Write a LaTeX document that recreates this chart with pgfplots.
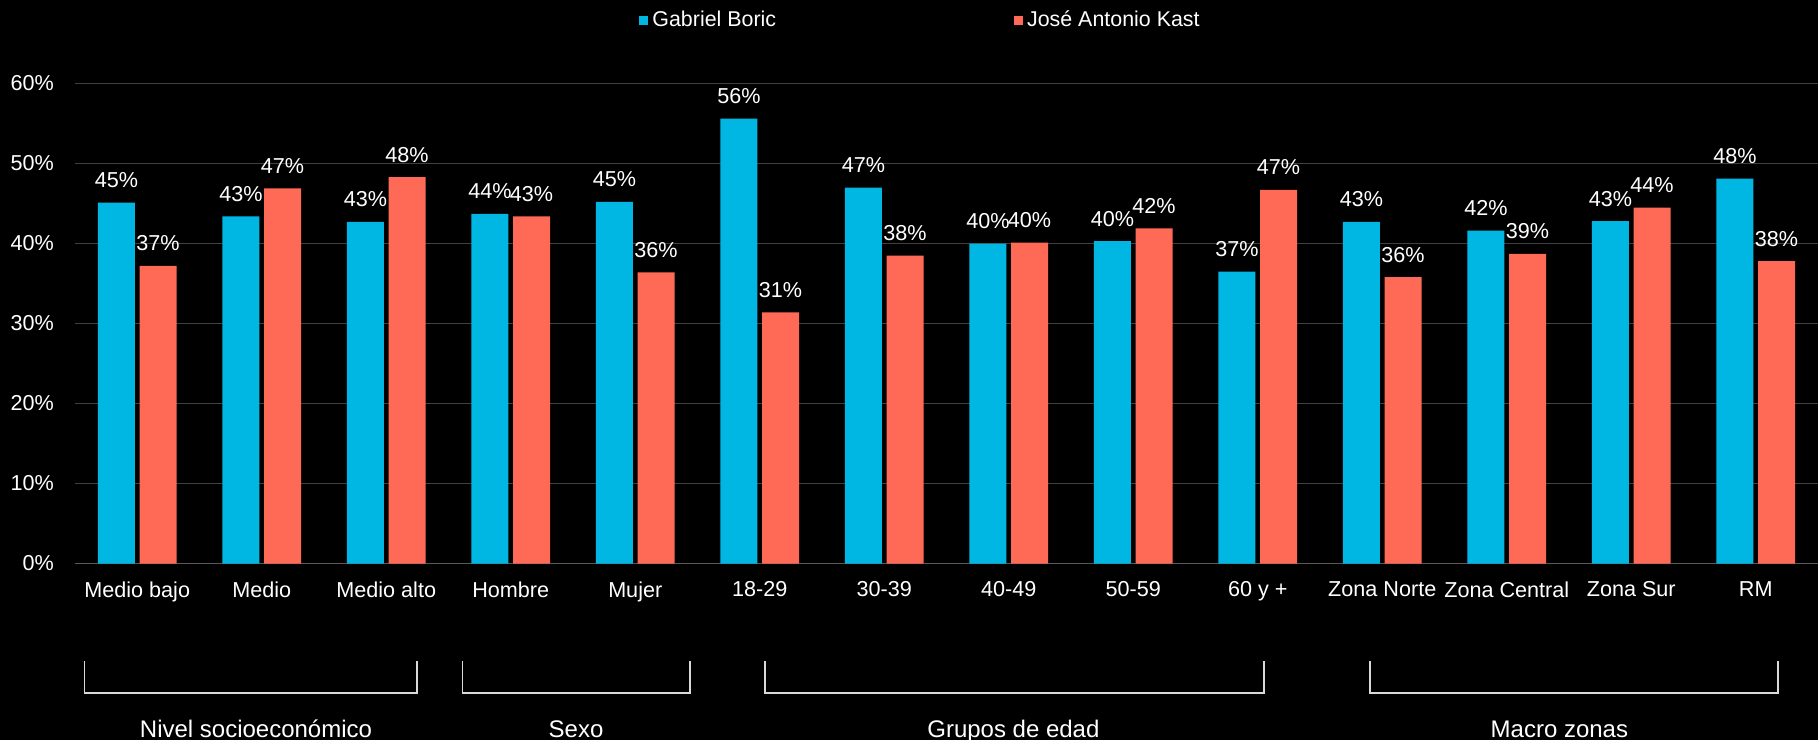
\documentclass[border=0pt]{standalone}
\usepackage{pgfplots}
\pgfplotsset{compat=1.18}
\usepackage{pgfplotstable}
\usepackage{fontspec}
\setmainfont{Liberation Sans}
\definecolor{boric}{RGB}{0,183,228}
\definecolor{kast}{RGB}{255,106,86}
\definecolor{gridc}{RGB}{64,64,64}
\definecolor{basec}{RGB}{89,89,89}
\definecolor{brk}{RGB}{217,217,217}

\pgfplotstableread{
x boric bl kast kl
0 45.1 45 37.2 37
1 43.4 43 46.9 47
2 42.7 43 48.3 48
3 43.7 44 43.4 43
4 45.2 45 36.4 36
5 55.6 56 31.4 31
6 47.0 47 38.5 38
7 40.0 40 40.1 40
8 40.3 40 41.9 42
9 36.5 37 46.7 47
10 42.7 43 35.8 36
11 41.6 42 38.7 39
12 42.8 43 44.5 44
13 48.1 48 37.8 38
}\datatable

\begin{document}
\begin{tikzpicture}
\path[use as bounding box, fill=black] (0,0) rectangle (909pt,370pt);
\begin{axis}[
  at={(37.5pt,88.25pt)}, anchor=south west,
  scale only axis,
  width=871.5pt, height=240pt,
  ymin=0, ymax=60,
  xmin=-0.5, xmax=13.5,
  ybar=2.3pt, bar width=18.5pt,
  axis x line*=bottom,
  axis y line*=left,
  y axis line style={draw=none},
  x axis line style={draw=basec, line width=0.9pt},
  major tick length=0pt,
  ytick={0,10,20,30,40,50,60},
  yticklabels={0\%,10\%,20\%,30\%,40\%,50\%,60\%},
  xtick={0,...,13},
  xticklabels={Medio bajo,Medio,Medio alto,Hombre,Mujer,18-29,30-39,40-49,50-59,60 y +,Zona Norte,Zona Central,Zona Sur,RM},
  ticklabel style={font=\fontsize{10.8}{13}\selectfont, text=white},
  yticklabel style={xshift=-7pt},
  xticklabel style={yshift=-5.5pt},
  ymajorgrids,
  grid style={draw=gridc, line width=0.75pt},
  nodes near coords={\pgfplotspointmeta\%},
  point meta=explicit symbolic,
  nodes near coords style={font=\fontsize{10.8}{13}\selectfont, text=white, anchor=base, inner sep=0pt, yshift=7.5pt},
  legend columns=2,
  legend style={draw=none, fill=none, text=white, font=\fontsize{10.7}{13}\selectfont,
    at={(0.3236,1.1323)}, anchor=west, inner sep=0pt,
    /tikz/every even column/.append style={column sep=117pt}},
  legend image code/.code={\fill[#1] (0pt,-2.25pt) rectangle (4.5pt,2.25pt);},
]
\addplot[fill=boric, draw=none] table[x=x, y=boric, meta=bl] {\datatable};
\addlegendentry{Gabriel Boric}
\addplot[fill=kast, draw=none] table[x=x, y=kast, meta=kl] {\datatable};
\addlegendentry{José Antonio Kast}
\end{axis}
\begin{scope}[draw=brk, line width=0.8pt]
\draw (42.3pt,39.5pt) -- (42.3pt,23.5pt) -- (208.5pt,23.5pt) -- (208.5pt,39.5pt);
\draw (231.3pt,39.5pt) -- (231.3pt,23.5pt) -- (345pt,23.5pt) -- (345pt,39.5pt);
\draw (382.5pt,39.5pt) -- (382.5pt,23.5pt) -- (632pt,23.5pt) -- (632pt,39.5pt);
\draw (685pt,39.5pt) -- (685pt,23.5pt) -- (889pt,23.5pt) -- (889pt,39.5pt);
\end{scope}
\begin{scope}[every node/.style={text=white, font=\fontsize{12}{14}\selectfont, anchor=base, inner sep=0pt}]
\node at (128pt,1.5pt) {Nivel socioeconómico};
\node at (288pt,1.5pt) {Sexo};
\node at (506.7pt,1.5pt) {Grupos de edad};
\node at (779.7pt,1.5pt) {Macro zonas};
\end{scope}
\end{tikzpicture}
\end{document}
